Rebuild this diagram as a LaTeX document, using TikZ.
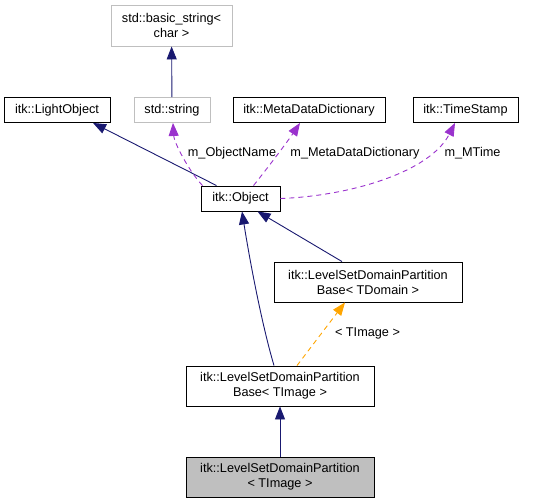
\documentclass[tikz,border=0pt]{standalone}
\usepackage{fontspec}
\setmainfont{Liberation Sans}
\usetikzlibrary{arrows.meta,calc}
\definecolor{navy}{HTML}{191970}
\definecolor{purp}{HTML}{9A32CD}
\definecolor{orng}{HTML}{FFA500}
\definecolor{lgray}{HTML}{BFBFBF}
\begin{document}
\begin{tikzpicture}[x=1pt,y=-1pt,
  box/.style={draw=black,line width=0.9pt,fill=white,inner sep=0pt,align=center,
    font=\fontsize{12.7}{15}\selectfont},
  gbox/.style={box,draw=lgray},
  inh/.style={draw=navy,line width=0.9pt,-{Triangle[length=13pt,width=10pt]}},
  use/.style={draw=purp,line width=0.9pt,dash pattern=on 5pt off 4pt,-{Triangle[length=13pt,width=10pt]}},
  tmpl/.style={draw=orng,line width=0.9pt,dash pattern=on 5pt off 4pt,-{Triangle[length=13pt,width=10pt]}},
  lbl/.style={inner sep=0pt,font=\fontsize{12.7}{15}\selectfont}]
\useasboundingbox (0,0) rectangle (549,503);
\node[gbox,minimum width=121pt,minimum height=41pt] (bs) at (171.5,25.5) {std::basic\_string<\\char >};
\node[box,minimum width=106pt,minimum height=25pt] (lo) at (57,110) {itk::LightObject};
\node[gbox,minimum width=76pt,minimum height=25pt] (ss) at (172,110) {std::string};
\node[box,minimum width=152pt,minimum height=25pt] (md) at (309,110) {itk::MetaDataDictionary};
\node[box,minimum width=105pt,minimum height=25pt] (ts) at (465.5,110) {itk::TimeStamp};
\node[box,minimum width=79pt,minimum height=25pt] (obj) at (240.5,198.5) {itk::Object};
\node[box,minimum width=188pt,minimum height=40pt] (dom) at (368,282) {itk::LevelSetDomainPartition\\Base< TDomain >};
\node[box,minimum width=188pt,minimum height=40pt] (bimg) at (280,386) {itk::LevelSetDomainPartition\\Base< TImage >};
\node[box,fill=lgray,minimum width=188pt,minimum height=40pt] (lsdp) at (280,477) {itk::LevelSetDomainPartition\\< TImage >};

\draw[inh] (ss) -- (bs);
\draw[inh] ($(obj.north)+(-24,0)$) -- ($(lo.south)+(36,0)$);
\draw[use] ($(obj.north)+(-38,0)$) .. controls (188,170) and (174,142) .. ($(ss.south)+(1,0)$);
\draw[use] ($(obj.north)+(13,0)$) .. controls (270,165) and (290,138) .. ($(md.south)+(-9,0)$);
\draw[use] (obj.east) .. controls (350,196) and (430,172) .. ($(ts.south)+(-10.5,0)$);
\draw[inh] ($(bimg.north)+(-6,0)$) .. controls (262,325) and (250,262) .. ($(obj.south)+(1.5,0)$);
\draw[inh] ($(dom.north)+(-26,0)$) -- ($(obj.south)+(17,0)$);
\draw[tmpl] ($(bimg.north)+(17,0)$) -- ($(dom.south)+(-23,0)$);
\draw[inh] (lsdp) -- (bimg);

\node[lbl] (l1) at (232,153) {m\_ObjectName};
\node[lbl] (l2) at (355,153) {m\_MetaDataDictionary};
\node[lbl] (l3) at (472.5,153) {m\_MTime};
\node[lbl] (l4) at (367.5,333) {< TImage >};
\end{tikzpicture}
\end{document}
